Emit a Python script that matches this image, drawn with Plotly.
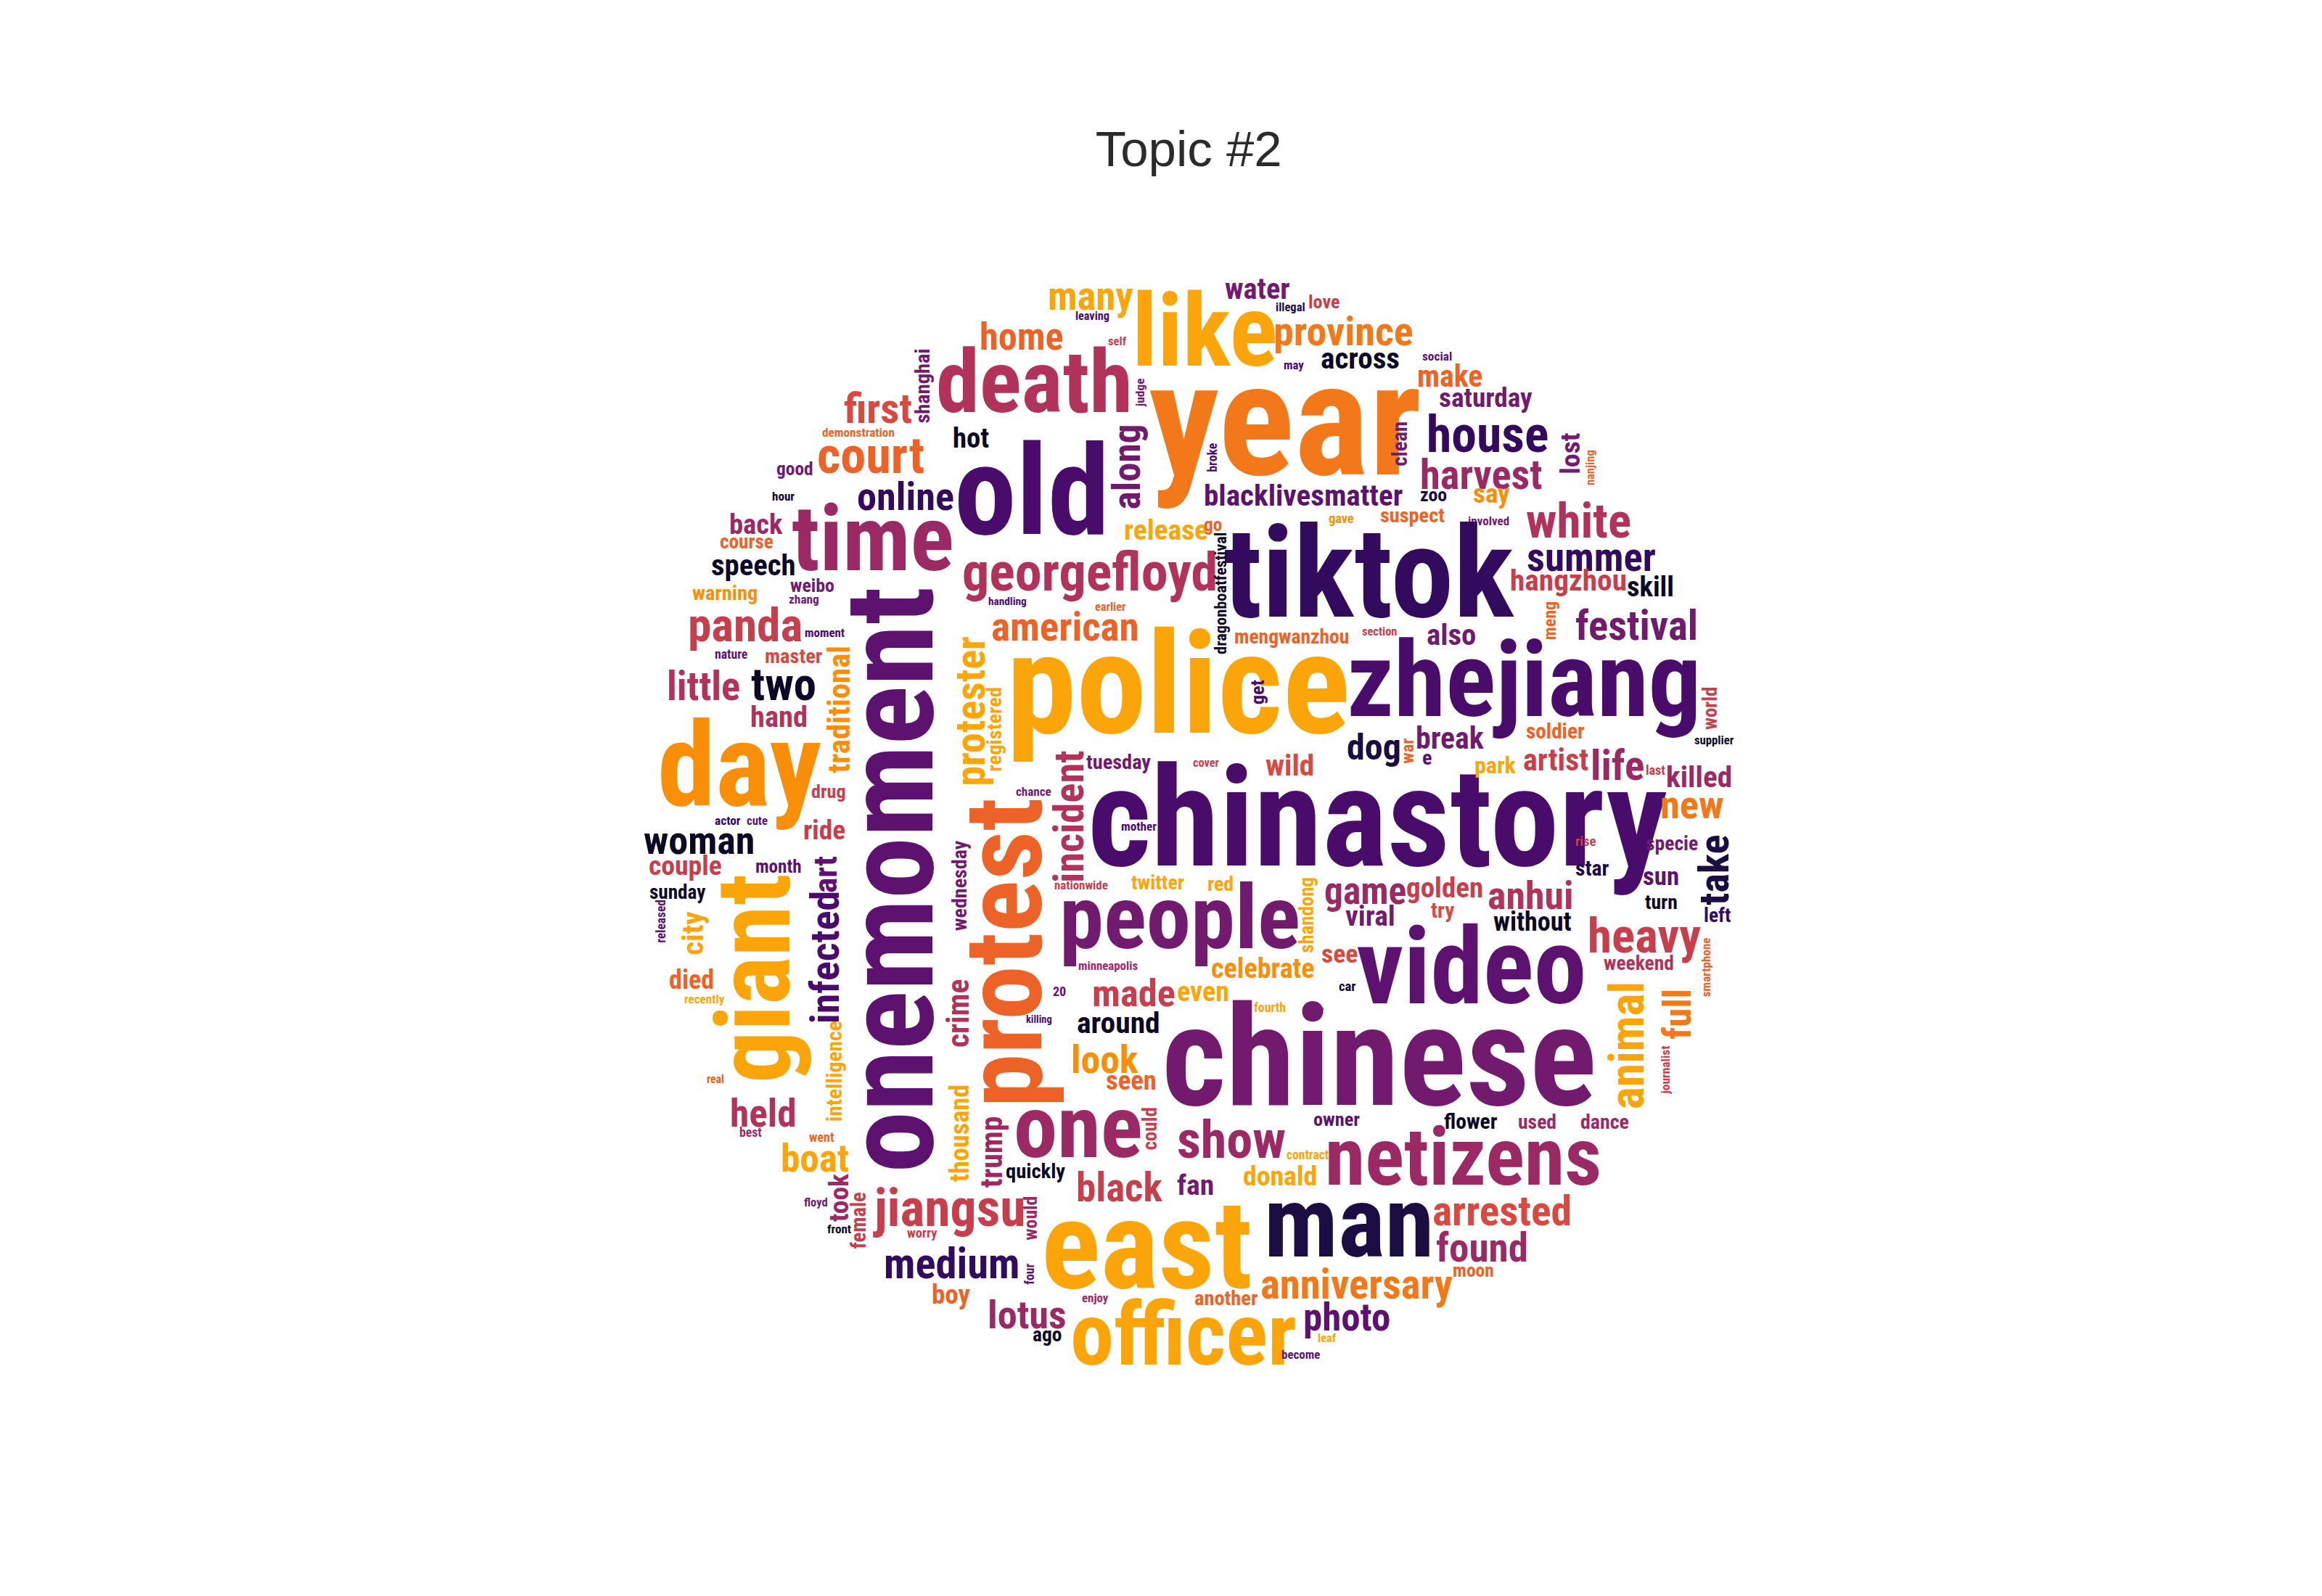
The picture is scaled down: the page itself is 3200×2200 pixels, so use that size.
import plotly.graph_objects as go

# ---------------- data: word cloud "Topic #2" ----------------
# horizontal words: text, centre x, centre y of lowercase body, length, colour index
h_words = ["first", "demonstration", "court", "good", "hour", "online", "time", "back", "course", "speech",
           "weibo", "warning", "zhang", "panda", "moment", "nature", "master", "little", "two", "hand",
           "day", "drug", "actor", "cute", "ride", "woman", "couple", "month", "sunday", "died",
           "recently", "real", "held", "best", "went", "boat", "floyd", "front", "jiangsu", "medium",
           "worry", "boy", "lotus", "ago", "enjoy", "officer", "east", "around", "look", "seen",
           "one", "quickly", "black", "chance", "tuesday", "nationwide", "mother", "twitter", "minneapolis", "20",
           "made", "even", "killing", "people", "chinastory", "police", "american", "georgefloyd", "handling", "earlier",
           "release", "old", "hot", "death", "home", "many", "leaving", "self", "like", "year",
           "water", "illegal", "love", "province", "may", "across", "social", "make", "saturday", "house",
           "harvest", "say", "involved", "white", "summer", "hangzhou", "skill", "festival", "tiktok", "blacklivesmatter",
           "zoo", "go", "gave", "suspect", "mengwanzhou", "section", "also", "zhejiang", "break", "dog",
           "e", "wild", "cover", "red", "game", "golden", "viral", "try", "see", "celebrate",
           "car", "fourth", "live", "video", "chinese", "owner", "flower", "used", "dance", "netizens",
           "show", "contract", "donald", "fan", "man", "arrested", "found", "moon", "anniversary", "another",
           "photo", "leaf", "become", "soldier", "artist", "park", "life", "last", "killed", "supplier",
           "new", "rise", "specie", "star", "sun", "turn", "left", "anhui", "without", "heavy",
           "weekend"]
h_x = [1208, 1181, 1198, 1093, 1077, 1246, 1201, 1039, 1026, 1035,
       1117, 996, 1106, 1024, 1134, 1005, 1091, 966, 1077, 1071,
       1016, 1140, 1000, 1041, 1134, 960, 941, 1070, 930, 950,
       968, 983, 1049, 1032, 1130, 1121, 1122, 1154, 1307, 1310,
       1269, 1309, 1415, 1442, 1509, 1631, 1580, 1541, 1522, 1559,
       1485, 1426, 1542, 1424, 1541, 1489, 1569, 1595, 1527, 1459,
       1562, 1658, 1431, 1626, 1900, 1624, 1467, 1502, 1387, 1530,
       1607, 1421, 1337, 1425, 1407, 1503, 1505, 1540, 1661, 1772,
       1734, 1779, 1826, 1853, 1784, 1876, 1982, 2000, 2050, 2052,
       2044, 2058, 2054, 2178, 2196, 2164, 2278, 2259, 1888, 1797,
       1977, 1672, 1850, 1948, 1781, 1903, 2002, 2103, 2000, 1895,
       1968, 1778, 1663, 1682, 1883, 1993, 1890, 1990, 1847, 1741,
       1858, 1751, 1814, 2030, 1902, 1843, 2029, 2121, 2215, 2019,
       1697, 1803, 1765, 1648, 1860, 2072, 2045, 2033, 1871, 1690,
       1857, 1830, 1793, 2146, 2147, 2063, 2232, 2285, 2345, 2366,
       2336, 2188, 2308, 2197, 2292, 2293, 2370, 2112, 2115, 2269,
       2262]
h_y = [564, 594, 630, 645, 682, 686, 750, 723, 747, 780,
       807, 818, 825, 865, 872, 902, 905, 949, 947, 990,
       1067, 1093, 1133, 1133, 1147, 1163, 1197, 1197, 1233, 1355,
       1380, 1492, 1542, 1566, 1572, 1605, 1663, 1700, 1675, 1751,
       1705, 1792, 1822, 1848, 1795, 1854, 1735, 1415, 1467, 1495,
       1567, 1620, 1645, 1092, 1052, 1222, 1141, 1220, 1334, 1370,
       1375, 1372, 1409, 1276, 1143, 958, 867, 792, 828, 836,
       731, 687, 603, 532, 464, 407, 432, 467, 463, 592,
       396, 420, 413, 457, 500, 493, 488, 518, 547, 601,
       656, 680, 717, 720, 770, 801, 809, 865, 802, 683,
       681, 722, 713, 710, 878, 870, 877, 948, 1020, 1033,
       1046, 1058, 1052, 1222, 1233, 1228, 1267, 1258, 1319, 1340,
       1363, 1392, 1395, 1346, 1475, 1548, 1552, 1552, 1552, 1607,
       1581, 1597, 1628, 1640, 1700, 1678, 1729, 1758, 1780, 1797,
       1825, 1851, 1874, 1010, 1050, 1057, 1060, 1063, 1074, 1021,
       1113, 1162, 1165, 1200, 1212, 1247, 1265, 1240, 1275, 1297,
       1332]
h_len = [90, 98, 142, 50, 30, 128, 218, 72, 72, 114,
         60, 88, 41, 157, 55, 44, 78, 93, 90, 78,
         223, 46, 35, 28, 55, 155, 98, 63, 76, 60,
         53, 23, 88, 30, 34, 93, 32, 32, 201, 186,
         40, 52, 105, 40, 35, 307, 285, 113, 89, 68,
         174, 78, 115, 48, 87, 72, 48, 70, 80, 18,
         115, 70, 33, 322, 774, 455, 200, 343, 51, 40,
         112, 207, 49, 265, 115, 117, 45, 24, 187, 363,
         88, 38, 42, 187, 28, 108, 40, 90, 126, 165,
         163, 50, 55, 141, 177, 158, 60, 162, 381, 265,
         37, 25, 34, 87, 157, 47, 67, 470, 91, 74,
         13, 65, 35, 35, 113, 103, 65, 30, 49, 138,
         23, 42, 22, 306, 580, 63, 72, 52, 66, 368,
         150, 57, 100, 50, 236, 186, 124, 57, 255, 85,
         119, 24, 53, 77, 85, 55, 69, 26, 85, 52,
         87, 27, 70, 45, 49, 43, 35, 115, 105, 152,
         95]
h_col = [9, 10, 10, 5, 0, 2, 6, 6, 10, 0,
         5, 12, 5, 8, 3, 4, 9, 7, 0, 7,
         12, 8, 2, 4, 8, 0, 8, 4, 0, 10,
         13, 10, 7, 6, 10, 13, 5, 0, 8, 2,
         8, 10, 6, 0, 6, 13, 13, 0, 12, 10,
         6, 0, 8, 5, 5, 8, 3, 13, 6, 4,
         8, 13, 3, 5, 3, 13, 10, 7, 3, 10,
         13, 3, 0, 7, 10, 13, 3, 8, 13, 11,
         5, 1, 8, 11, 3, 0, 4, 10, 5, 2,
         6, 12, 5, 7, 2, 8, 0, 5, 2, 4,
         1, 10, 12, 10, 10, 8, 5, 3, 5, 1,
         4, 9, 8, 13, 6, 8, 5, 9, 9, 12,
         0, 13, 8, 4, 5, 4, 0, 6, 6, 6,
         6, 13, 13, 5, 1, 9, 6, 10, 11, 10,
         4, 13, 4, 10, 8, 13, 6, 8, 6, 0,
         11, 8, 5, 1, 4, 0, 2, 7, 0, 8,
         7]

# vertical words (read bottom to top): text, centre x of lowercase body, centre y, length, colour index
v_words = ["shanghai", "traditional", "art", "released", "city", "giant", "infected", "intelligence", "took", "female",
           "would", "four", "thousand", "trump", "could", "crime", "protest", "protester", "registered", "wednesday",
           "incident", "along", "judge", "lost", "nanjing", "meng", "broke", "clean", "dragonboatfestival", "war",
           "get", "shandong", "animal", "full", "journalist", "world", "take", "smartphone", "onemoment"]
v_x = [1272, 1157, 1138, 909, 955, 1047, 1139, 1150, 1157, 1183,
       1421, 1420, 1324, 1369, 1587, 1323, 1395, 1341, 1372, 1323,
       1478, 1557, 1572, 2170, 2196, 2140, 1673, 1932, 1684, 1943,
       1735, 1804, 2251, 2320, 2300, 2363, 2371, 2356, 1238]
v_y = [528, 977, 1206, 1271, 1288, 1351, 1321, 1479, 1655, 1687,
       1683, 1761, 1566, 1591, 1559, 1399, 1315, 979, 1004, 1222,
       1126, 640, 537, 622, 641, 853, 627, 608, 816, 1035,
       953, 1262, 1444, 1400, 1478, 976, 1200, 1335, 1214]
v_len = [101, 169, 48, 58, 57, 278, 177, 132, 65, 77,
         60, 28, 132, 97, 58, 92, 416, 200, 112, 123,
         175, 115, 37, 55, 47, 53, 39, 60, 164, 35,
         33, 103, 173, 65, 63, 58, 95, 80, 802]
v_col = [5, 12, 4, 4, 13, 13, 3, 13, 6, 8,
         6, 4, 13, 6, 8, 7, 10, 13, 13, 5,
         7, 5, 5, 5, 10, 10, 3, 5, 0, 10,
         3, 13, 13, 11, 8, 8, 1, 10, 4]

palette = ["#0c0826", "#1b0c41", "#320a5e", "#4a0c6b", "#5c126e", "#721a6e", "#9b2964",
           "#b1325a", "#c73e4c", "#d9493f", "#ec6227", "#f37819", "#f98e09", "#fca50a"]

title_text = "Topic #2"

# ---------------- layout helpers ----------------
FONT = "Roboto Condensed, DejaVu Sans Condensed, sans-serif"
# approximate Roboto Bold advance widths (1/2048 em); condensed face ~0.89 of these
adv = dict(a=1092, b=1124, c=1046, d=1126, e=1064, f=704, g=1126, h=1104, i=504, j=494, k=1036, l=504,
           m=1756, n=1104, o=1140, p=1124, q=1126, r=696, s=1034, t=666, u=1104, v=984, w=1500,
           x=1010, y=968, z=1010)
COND = 0.89
BODY_OFF = 0.078   # offset between text-box centre and lowercase-body centre, in em


def em_for(word, length):
    w = sum(adv.get(ch, 1150) for ch in word) * COND / 2048.0
    return length / w


annotations = []
for w, x, y, L, c in zip(h_words, h_x, h_y, h_len, h_col):
    em = em_for(w, L)
    annotations.append(dict(x=x, y=y - BODY_OFF * em, xref="x", yref="y", text=w, showarrow=False,
                            xanchor="center", yanchor="middle",
                            font=dict(family=FONT, size=em, color=palette[c], weight="bold")))
for w, x, y, L, c in zip(v_words, v_x, v_y, v_len, v_col):
    em = em_for(w, L)
    annotations.append(dict(x=x - BODY_OFF * em, y=y, xref="x", yref="y", text=w, showarrow=False,
                            textangle=-90, xanchor="center", yanchor="middle",
                            font=dict(family=FONT, size=em, color=palette[c], weight="bold")))

fig = go.Figure(go.Scatter(x=[], y=[], mode="markers", showlegend=False, hoverinfo="skip"))
fig.update_layout(
    title=dict(text=title_text, x=0.512, xref="container", xanchor="center",
               y=1 - 198 / 2200, yref="container", yanchor="middle",
               font=dict(family="Liberation Sans, Arial, sans-serif", size=69, color="#2b2b2b")),
    annotations=annotations,
    margin=dict(l=0, r=0, t=0, b=0),
    paper_bgcolor="white",
    plot_bgcolor="white",
    xaxis=dict(range=[0, 3200], visible=False, fixedrange=True),
    yaxis=dict(range=[2200, 0], visible=False, fixedrange=True),
    showlegend=False,
)
fig.write_html("out.html")
